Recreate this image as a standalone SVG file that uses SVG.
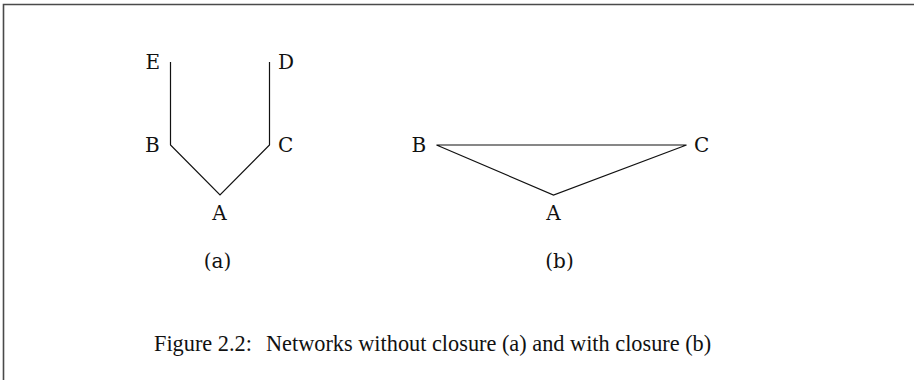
<svg xmlns="http://www.w3.org/2000/svg" width="914" height="380" viewBox="0 0 914 380">
  <style>
    .lbl { font-family: "DejaVu Serif", serif; font-size: 20px; fill: #111; }
    .cap { font-family: "Liberation Serif", "Times New Roman", serif; font-size: 22.3px; fill: #111; }
    .edge { stroke: #111; stroke-width: 1.2; fill: none; }
  </style>
  <rect width="914" height="380" fill="#fff"/>
  <!-- frame: top and left rules -->
  <path d="M3.5,380 V4.5 H914" fill="none" stroke="#4a4a4a" stroke-width="1.6"/>

  <!-- panel (a): open network -->
  <g id="edges-a">
    <path class="edge" d="M170.5,62 V145 L220,195 L269.5,145 V62"/>
  </g>
  <g id="a-E"><text class="lbl" x="145.5" y="69">E</text></g>
  <g id="a-D"><text class="lbl" x="278" y="69">D</text></g>
  <g id="a-B"><text class="lbl" x="145" y="152">B</text></g>
  <g id="a-C"><text class="lbl" x="278" y="152">C</text></g>
  <g id="a-A"><text class="lbl" x="219.5" y="220" text-anchor="middle">A</text></g>
  <text class="lbl" x="217.5" y="268" text-anchor="middle">(a)</text>

  <!-- panel (b): closed triangle -->
  <g id="edges-b">
    <path class="edge" d="M436.5,145 H686.5 L553.5,195 Z"/>
  </g>
  <g id="b-B"><text class="lbl" x="411.5" y="152">B</text></g>
  <g id="b-C"><text class="lbl" x="694" y="152">C</text></g>
  <g id="b-A"><text class="lbl" x="553.5" y="220" text-anchor="middle">A</text></g>
  <text class="lbl" x="559.5" y="268" text-anchor="middle">(b)</text>

  <!-- caption -->
  <text class="cap" x="154" y="351">Figure 2.2:</text>
  <text class="cap" x="266" y="351">Networks without closure (a) and with closure (b)</text>
</svg>
